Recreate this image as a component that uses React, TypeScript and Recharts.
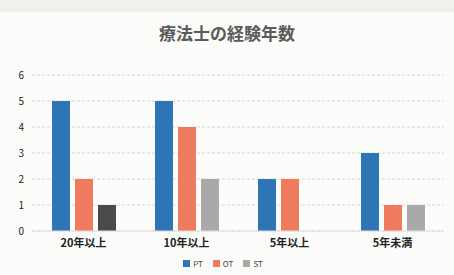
import React from 'react';
import { BarChart, Bar, XAxis, YAxis, CartesianGrid, Legend, Cell } from 'recharts';

const CATEGORIES = ['20年以上', '10年以上', '5年以上', '5年未満'];
const PT = [5, 5, 2, 3];
const OT = [2, 4, 2, 1];
const ST = [1, 2, 0, 1];
const Y_TICKS = [0, 1, 2, 3, 4, 5, 6];

const SERIES = [
  { key: 'PT', color: '#2e75b6' },
  { key: 'OT', color: '#ef7b5f' },
  { key: 'ST', color: '#a9a9a9' },
];

const FONT = '"Noto Sans CJK JP", "Noto Sans", sans-serif';

const data = CATEGORIES.map((name, i) => ({ name, PT: PT[i], OT: OT[i], ST: ST[i] }));

const LegendContent = () => (
  <div style={{ display: 'flex', justifyContent: 'center', gap: 10, fontSize: 8, color: '#444', fontFamily: FONT, lineHeight: '13px' }}>
    {SERIES.map((s) => (
      <span key={s.key} style={{ display: 'inline-flex', alignItems: 'center', gap: 3 }}>
        <span style={{ width: 7, height: 7, background: s.color, display: 'inline-block' }} />
        {s.key}
      </span>
    ))}
  </div>
);

const App: React.FC = () => {
  return (
    <div style={{ position: 'absolute', left: 0, top: 0, width: 454, height: 275, background: '#fcfdfa', fontFamily: FONT }}>
      <div style={{ position: 'absolute', left: 0, top: 0, width: 454, height: 12, background: '#eef2e8' }} />
      <div
        style={{
          position: 'absolute',
          top: 20,
          width: 454,
          textAlign: 'center',
          fontSize: 17,
          fontWeight: 700,
          color: '#5a5a5a',
        }}
      >
        療法士の経験年数
      </div>
      <BarChart
        width={454}
        height={275}
        data={data}
        margin={{ top: 75, right: 10, left: 2, bottom: 4 }}
        barSize={18}
        barGap={5}
        style={{ position: 'absolute', left: 0, top: 0 }}
      >
        <CartesianGrid vertical={false} stroke="#d4d4d4" strokeDasharray="3 2" />
        <XAxis
          dataKey="name"
          height={26}
          tickLine={false}
          axisLine={{ stroke: '#e0e0e0' }}
          tick={{ fill: '#222', fontSize: 11, fontWeight: 700, fontFamily: FONT }}
        />
        <YAxis
          domain={[0, 6]}
          ticks={Y_TICKS}
          width={30}
          tickLine={false}
          axisLine={false}
          tick={{ fill: '#222', fontSize: 10, fontFamily: FONT }}
        />
        <Legend height={14} content={<LegendContent />} />
        <Bar dataKey="PT" fill={SERIES[0].color} isAnimationActive={false} />
        <Bar dataKey="OT" fill={SERIES[1].color} isAnimationActive={false} />
        <Bar dataKey="ST" fill={SERIES[2].color} isAnimationActive={false}>
          {data.map((d, i) => (
            <Cell key={`st-${i}`} fill={i === 0 ? '#4a4a4a' : SERIES[2].color} />
          ))}
        </Bar>
      </BarChart>
    </div>
  );
};

export default App;
